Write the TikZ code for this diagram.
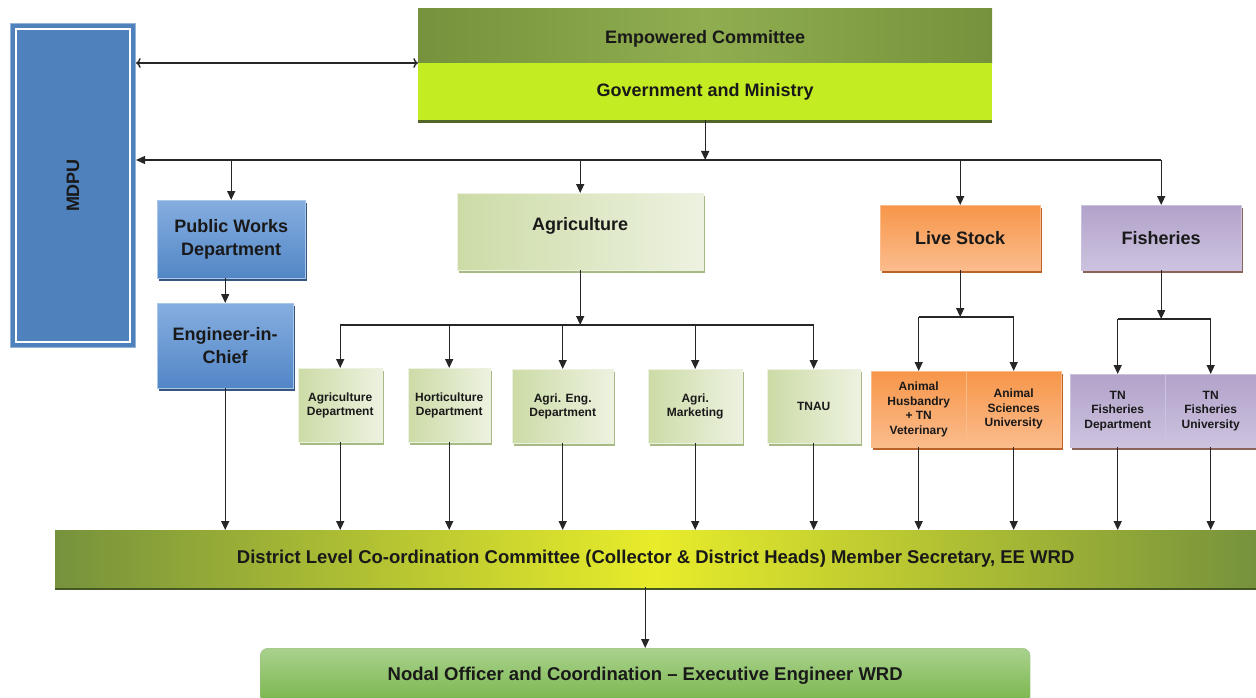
\documentclass[tikz,border=0pt]{standalone}
\usepackage{fontspec}
\setmainfont{Liberation Sans}
\usetikzlibrary{arrows.meta,shadows}
\definecolor{bluetop}{HTML}{86AEE0}
\definecolor{bluebot}{HTML}{5286C6}
\definecolor{blueshd}{HTML}{34567F}
\definecolor{agridk}{HTML}{CCDBA6}
\definecolor{agrilt}{HTML}{EDF2E0}
\definecolor{agrishd}{HTML}{A7B985}
\definecolor{livetop}{HTML}{F7964A}
\definecolor{livebot}{HTML}{FBBC8C}
\definecolor{liveshd}{HTML}{B9622A}
\definecolor{fishtop}{HTML}{B2A2CA}
\definecolor{fishbot}{HTML}{CDC3DF}
\definecolor{fishshd}{HTML}{8A6458}
\definecolor{olive}{HTML}{76923C}
\definecolor{olivelt}{HTML}{90AE50}
\definecolor{lime}{HTML}{C3EC23}
\definecolor{yell}{HTML}{E8EC2A}
\definecolor{nodaltop}{HTML}{A9D28D}
\definecolor{nodalbot}{HTML}{78B54A}
\definecolor{mdpublue}{HTML}{4F81BD}

\begin{document}
\begin{tikzpicture}[
  x=1pt, y=-1pt,
  link/.style={line width=1.4pt, black!85, -{Triangle[length=9pt,width=8pt]}},
  box/.style={anchor=north west, inner sep=0pt, align=center, text=black!90,
    font=\bfseries\fontsize{18}{23}\selectfont},
  small/.style={font=\bfseries\fontsize{12}{14.5}\selectfont},
  bluebox/.style={box, top color=bluetop, bottom color=bluebot, draw=bluetop!70!white,
    general shadow={fill=blueshd, shadow xshift=2pt, shadow yshift=-3pt}},
  agribox/.style={box, left color=agridk, right color=agrilt, draw=agrilt,
    general shadow={fill=agrishd, shadow xshift=2pt, shadow yshift=-3pt}},
  livebox/.style={box, top color=livetop, bottom color=livebot, draw=livebot,
    general shadow={fill=liveshd, shadow xshift=2pt, shadow yshift=-3pt}},
  fishbox/.style={box, top color=fishtop, bottom color=fishbot, draw=fishbot,
    general shadow={fill=fishshd, shadow xshift=2pt, shadow yshift=-3pt}}
]
\useasboundingbox (0,0) rectangle (1256,698);

% top of the chart
\node[box, fill=mdpublue, draw=mdpublue!60!white, line width=1pt,
  minimum width=125pt, minimum height=324pt] (mdpu) at (10,23) {};
\draw[white, line width=2pt] ([shift={(6pt,6pt)}]mdpu.south west)
  rectangle ([shift={(-6pt,-6pt)}]mdpu.north east);
\node[rotate=90, font=\bfseries\fontsize{18}{22}\selectfont, text=black!90] (mdpulabel) at (mdpu) {MDPU};

\node[box, left color=olive, right color=olive, middle color=olivelt,
  minimum width=574pt, minimum height=55pt, text height=20pt] (emp) at (418,8) {Empowered Committee};
\node[box, fill=lime, minimum width=574pt, minimum height=57pt,
  general shadow={fill=olive!70!black, shadow yshift=-3pt}] (gov) at (418,63) {Government and Ministry};

% departments
\node[bluebox, minimum width=148pt, minimum height=78pt] (pwd) at (157,200) {Public Works\\Department};
\node[bluebox, minimum width=136pt, minimum height=85pt] (eic) at (157,303) {Engineer-in-\\Chief};
\node[agribox, minimum width=246pt, minimum height=77pt, text depth=16pt] (agri) at (457,193) {Agriculture};
\node[livebox, minimum width=160pt, minimum height=65pt] (live) at (880,205) {Live Stock};
\node[fishbox, minimum width=160pt, minimum height=65pt] (fish) at (1081,205) {Fisheries};

\node[agribox, small, minimum width=84pt, minimum height=74pt] (ad) at (298,368) {Agriculture\\Department};
\node[agribox, small, minimum width=82pt, minimum height=74pt] (hd) at (408,368) {Horticulture\\Department};
\node[agribox, small, minimum width=101pt, minimum height=74pt] (ae) at (512,369) {Agri. Eng.\\Department};
\node[agribox, small, minimum width=94pt, minimum height=74pt] (am) at (648,369) {Agri.\\Marketing};
\node[agribox, small, minimum width=93pt, minimum height=74pt] (tnau) at (767,369) {TNAU};
\node[livebox, small, minimum width=95pt, minimum height=76pt] (ah) at (871,371) {Animal\\Husbandry\\+ TN\\Veterinary};
\node[livebox, small, minimum width=95pt, minimum height=76pt] (as) at (966,371) {Animal\\Sciences\\University};
\node[fishbox, small, minimum width=95pt, minimum height=73pt] (tfd) at (1070,374) {TN\\Fisheries\\Department};
\node[fishbox, small, minimum width=91pt, minimum height=73pt] (tfu) at (1165,374) {TN\\Fisheries\\University};

% district level
\node[box, left color=olive, right color=olive, middle color=yell,
  font=\bfseries\fontsize{18.5}{22}\selectfont,
  minimum width=1201pt, minimum height=57pt,
  general shadow={fill=olive!60!black, shadow yshift=-3pt}] (dlc) at (55,530)
  {District Level Co-ordination Committee (Collector \& District Heads) Member Secretary, EE WRD};
\node[box, top color=nodaltop, bottom color=nodalbot, draw=nodalbot!80!black!60,
  rounded corners=8pt, font=\bfseries\fontsize{18.5}{22}\selectfont,
  minimum width=770pt, minimum height=56pt] (nodal) at (260,648)
  {Nodal Officer and Coordination -- Executive Engineer WRD};

% connectors
\coordinate (bus) at (0,160);
\coordinate (agribus) at (0,325);
\coordinate (livebus) at (0,317);
\coordinate (fishbus) at (0,319);
\draw[link, <->] (mdpu.east |- gov.north) -- (gov.north west);
\draw[link] (gov.south) -- (gov.south |- bus);
\draw[link] (fish.north |- bus) -- (mdpu.east |- bus);
\foreach \n in {pwd,agri,live,fish}
  \draw[link] (\n.north |- bus) -- (\n.north);
\draw[link] (eic.north |- pwd.south) -- (eic.north);

\draw[link] (agri.south) -- (agri.south |- agribus);
\draw[link, -] (ad.north |- agribus) -- (tnau.north |- agribus);
\draw[link] (live.south) -- (live.south |- livebus);
\draw[link, -] (ah.north |- livebus) -- (as.north |- livebus);
\draw[link] (fish.south) -- (fish.south |- fishbus);
\draw[link, -] (tfd.north |- fishbus) -- (tfu.north |- fishbus);
\foreach \n in {ad,hd,ae,am,tnau}
  \draw[link] (\n.north |- agribus) -- (\n.north);
\foreach \n in {ah,as}
  \draw[link] (\n.north |- livebus) -- (\n.north);
\foreach \n in {tfd,tfu}
  \draw[link] (\n.north |- fishbus) -- (\n.north);

\foreach \n in {eic,ad,hd,ae,am,tnau,ah,as,tfd,tfu}
  \draw[link] (\n.south) -- (\n.south |- dlc.north);
\draw[link] (nodal.north |- dlc.south) -- (nodal.north);
\end{tikzpicture}
\end{document}
